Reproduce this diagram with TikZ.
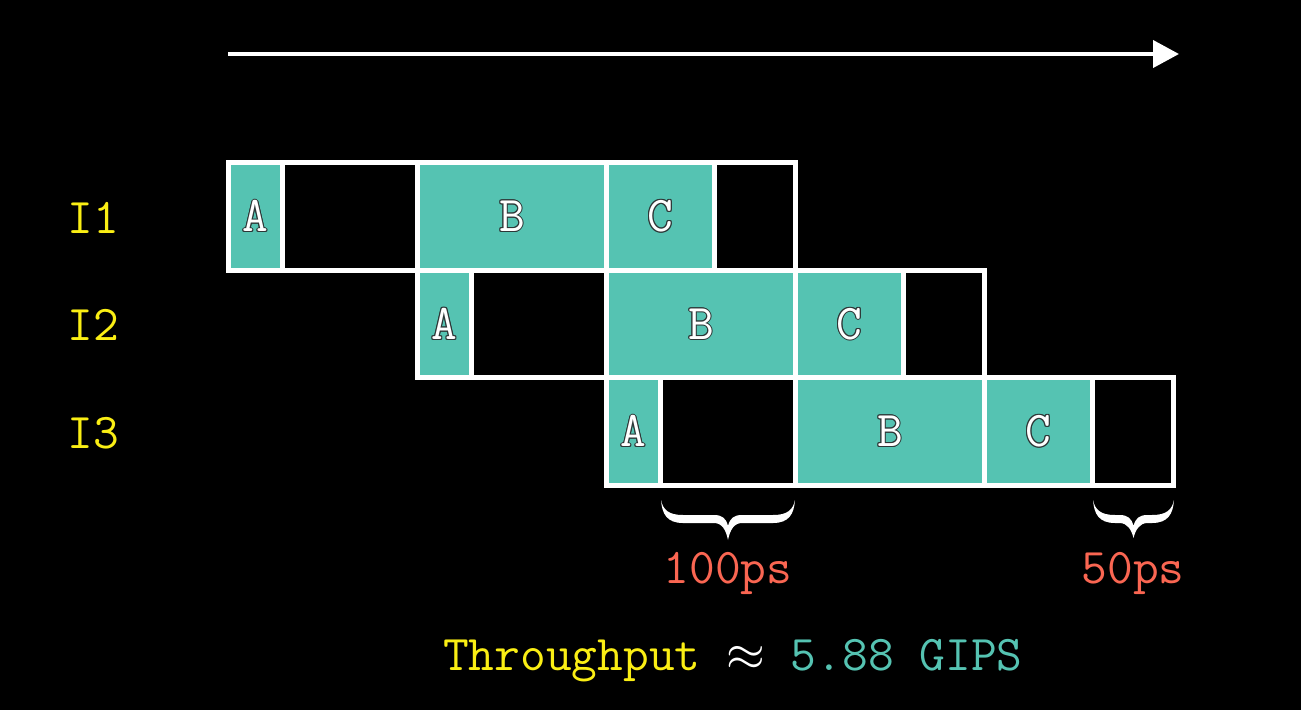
\documentclass[tikz,border=0pt]{standalone}
\usepackage{fontspec}
\usepackage{graphicx}
\usetikzlibrary{arrows.meta}
\definecolor{tealc}{RGB}{85,195,178}
\definecolor{yel}{RGB}{250,238,20}
\definecolor{redc}{RGB}{250,102,82}
\definecolor{edgegray}{RGB}{45,55,55}
\newcommand\olsh[3]{\makebox[0pt]{\raisebox{#3}{\makebox[0pt]{\hspace*{#2}#1}}}}
\newcommand\oltxt[1]{%
 \olsh{\color{edgegray}#1}{2pt}{0pt}%
 \olsh{\color{edgegray}#1}{-2pt}{0pt}%
 \olsh{\color{edgegray}#1}{0pt}{1pt}%
 \olsh{\color{edgegray}#1}{0pt}{-1pt}%
 \olsh{\color{edgegray}#1}{1.4pt}{0.7pt}%
 \olsh{\color{edgegray}#1}{-1.4pt}{0.7pt}%
 \olsh{\color{edgegray}#1}{1.4pt}{-0.7pt}%
 \olsh{\color{edgegray}#1}{-1.4pt}{-0.7pt}%
 \makebox[0pt]{\color{white}#1}}
\newcommand\bigtt{\ttfamily\fontsize{50}{60}\selectfont}
\newcommand\wbrace[2]{% #1 = half width, #2 = tip depth
 (-#1,0) .. controls ({-#1+1},14) and ({-#1+6},23) .. ({-#1+22},23)
 -- (-14,23) .. controls (-6,23) and (-2,30) .. (0,#2)
 .. controls (2,30) and (6,23) .. (14,23)
 -- ({#1-22},23) .. controls ({#1-6},23) and ({#1-1},14) .. (#1,0)
 .. controls ({#1-2},10) and ({#1-8},15) .. ({#1-22},15)
 -- (14,15) .. controls (6,15) and (2,18) .. (0,26)
 .. controls (-2,18) and (-6,15) .. (-14,15)
 -- ({-#1+22},15) .. controls ({-#1+8},15) and ({-#1+2},10) .. (-#1,0) -- cycle}
\tikzset{
 cell/.style={draw=white, line width=5pt, inner sep=0pt, minimum height=107.5pt,
   font=\bigtt, text=white},
 fullc/.style={cell, fill=tealc},
 empc/.style={cell, fill=black},
 lbl/.style={anchor=base, font=\bigtt, text=yel, inner sep=0pt},
 note/.style={anchor=base, font=\bigtt, text=redc, inner sep=0pt},
 timeline/.style={white, line width=4pt, -{Triangle[length=26pt,width=27pt]}},
 bracefill/.style={fill=white}
}
\begin{document}
\begin{tikzpicture}[x=1pt,y=-1pt]
\fill[black] (0,0) rectangle (1301,710);
\useasboundingbox (0,0) rectangle (1301,710);
% time arrow
\coordinate (ts) at (228,54);
\coordinate (te) at (1179,54);
\draw[timeline] (ts) -- (te);
% rows
\foreach \i in {0,1,2}{
  \pgfmathsetmacro\dx{189*\i}
  \pgfmathsetmacro\yc{216.25+107.5*\i}
  \node[fullc, minimum width=53.5pt] (A\i) at ({255.25+\dx},\yc) {\oltxt{A}};
  \node[empc, minimum width=135.5pt] (E\i) at ({349.75+\dx},\yc) {};
  \node[fullc, minimum width=189pt] (B\i) at ({512+\dx},\yc) {\oltxt{B}};
  \node[fullc, minimum width=107.5pt] (C\i) at ({660.25+\dx},\yc) {\oltxt{C}};
  \node[empc, minimum width=81.5pt] (F\i) at ({754.75+\dx},\yc) {};
}
% instruction labels
\node[lbl] (I1) at (93.5,233) {I1};
\node[lbl] (I2) at (93.5,340.5) {I2};
\node[lbl] (I3) at (93.5,448) {I3};
% braces
\fill[bracefill, shift={(728,500)}] \wbrace{67}{40};
\fill[bracefill, shift={(1133.5,500)}] \wbrace{40.5}{38};
\node[note] (t100) at (728,583) {100ps};
\node[note] (t50) at (1133,583) {50ps};
% throughput
\node[anchor=base west, font=\bigtt, inner sep=0pt] (tp) at (443,670)
  {\color{yel}Throughput \color{white}\scalebox{2}{$\approx$} \color{tealc}5.88 GIPS};
\end{tikzpicture}
\end{document}
